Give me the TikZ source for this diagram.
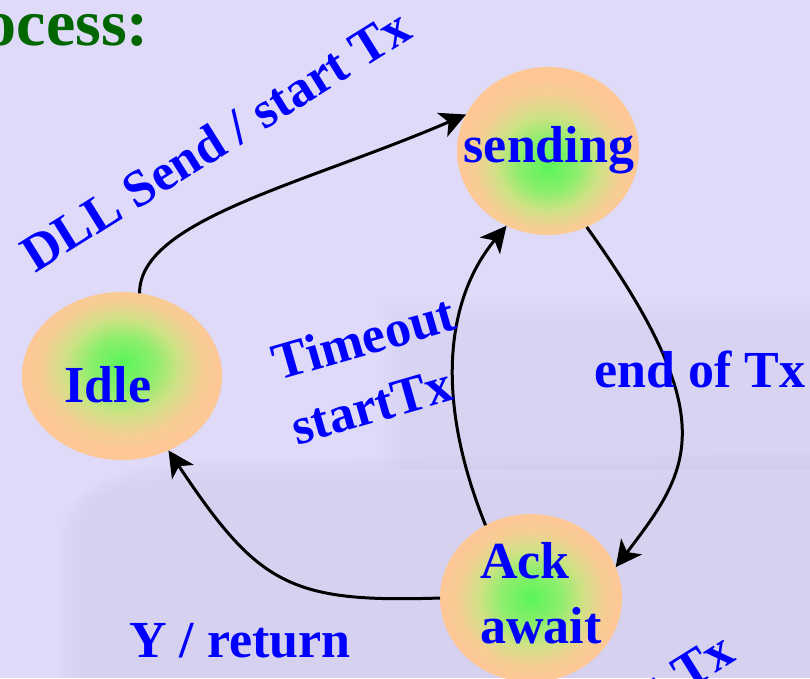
\documentclass[tikz,border=0pt]{standalone}
\usepackage{fontspec}
\setmainfont{Liberation Serif}
\usetikzlibrary{arrows.meta,shapes.geometric}

\definecolor{pagebg}{RGB}{222,218,248}
\definecolor{pageshade}{RGB}{200,196,226}
\definecolor{labelblue}{RGB}{0,0,255}
\definecolor{titlegreen}{RGB}{0,102,0}
\definecolor{glowgreen}{RGB}{90,245,90}
\definecolor{glowlime}{RGB}{140,238,108}
\definecolor{glowmid}{RGB}{205,226,132}
\definecolor{glowpeach}{RGB}{245,206,148}
\definecolor{peach}{RGB}{253,200,150}

% green core fading out to a peach rim; the focus sits a little off centre
\newcommand{\declareglow}[2]{%
  \pgfdeclareradialshading{#1}{\pgfpoint{0bp}{#2}}{%
    color(0bp)=(glowgreen); color(8bp)=(glowlime); color(14bp)=(glowmid);
    color(20bp)=(glowpeach); color(24bp)=(peach); color(50bp)=(peach)}}
\declareglow{glowcentre}{0bp}
\declareglow{glowhigh}{4bp}
\declareglow{glowlow}{-5bp}

\tikzset{
  state/.style={ellipse, shading=glowcentre, draw=none, inner sep=0pt, outer sep=0pt,
                minimum width=182pt, minimum height=168pt},
  statelabel/.style={text=labelblue, font=\fontsize{52}{65}\selectfont\bfseries, inner sep=0pt},
  lbl/.style={text=labelblue, font=\fontsize{52}{67}\selectfont\bfseries, inner sep=0pt},
  heading/.style={text=titlegreen, font=\fontsize{66}{70}\selectfont\bfseries, inner sep=0pt},
  trans/.style={line width=3pt, black, -{Stealth[length=26pt,width=26pt,inset=7pt]}}
}

\begin{document}
\begin{tikzpicture}[x=1pt,y=-1pt]
  \useasboundingbox (0,0) rectangle (810,678);
  \clip (0,0) rectangle (810,678);
  \fill[pagebg] (0,0) rectangle (810,678);

  % faint backdrop, built up in soft layers
  \foreach \d in {0,4,...,24}{
    \fill[pageshade, opacity=0.03] (380+\d,300+\d) rectangle (810,470);
    \fill[pageshade, opacity=0.05] (60+\d,678) -- (60+\d,540) .. controls (60+\d,490) and (120,462+\d) .. (200,460+\d)
          -- (810,452+\d) -- (810,678) -- cycle;
  }

  % heading
  \node[heading, anchor=base east] at (149,45) {Process:};

  % states
  \node[state, shading=glowlow] (sending) at (548,151) {};
  \node[state, shading=glowhigh, minimum width=200pt] (idle) at (122,376) {};
  \node[state] (ack) at (531,598) {};

  \node[statelabel, anchor=base] at (549,162) {sending};
  \node[statelabel, anchor=base] at (108,402) {Idle};
  \node[statelabel, align=left, anchor=center] at (541,593) {Ack\\await};

  % transitions
  \draw[trans] (idle.78) .. controls (139,220) and (305,184) .. (sending.156);
  \draw[trans] (sending.-63) .. controls (725,420) and (690,470) .. (ack.20);
  \draw[trans] (ack.122) .. controls (435,400) and (445,300) .. (sending.241);
  \draw[trans] (ack.180) .. controls (290,603) and (258,585) .. (idle.-58);

  % transition labels
  \node[lbl, anchor=base, rotate=32] at (225,155) {DLL Send / start Tx};
  \node[lbl, align=left, rotate=16] at (373,370) {Timeout\\startTx};
  \node[lbl, anchor=base] at (700,387) {end of Tx};
  \node[lbl, anchor=base] at (240,657) {Y / return};
  \node[lbl, anchor=base east, rotate=32] at (738,660) {start Tx};
\end{tikzpicture}
\end{document}
